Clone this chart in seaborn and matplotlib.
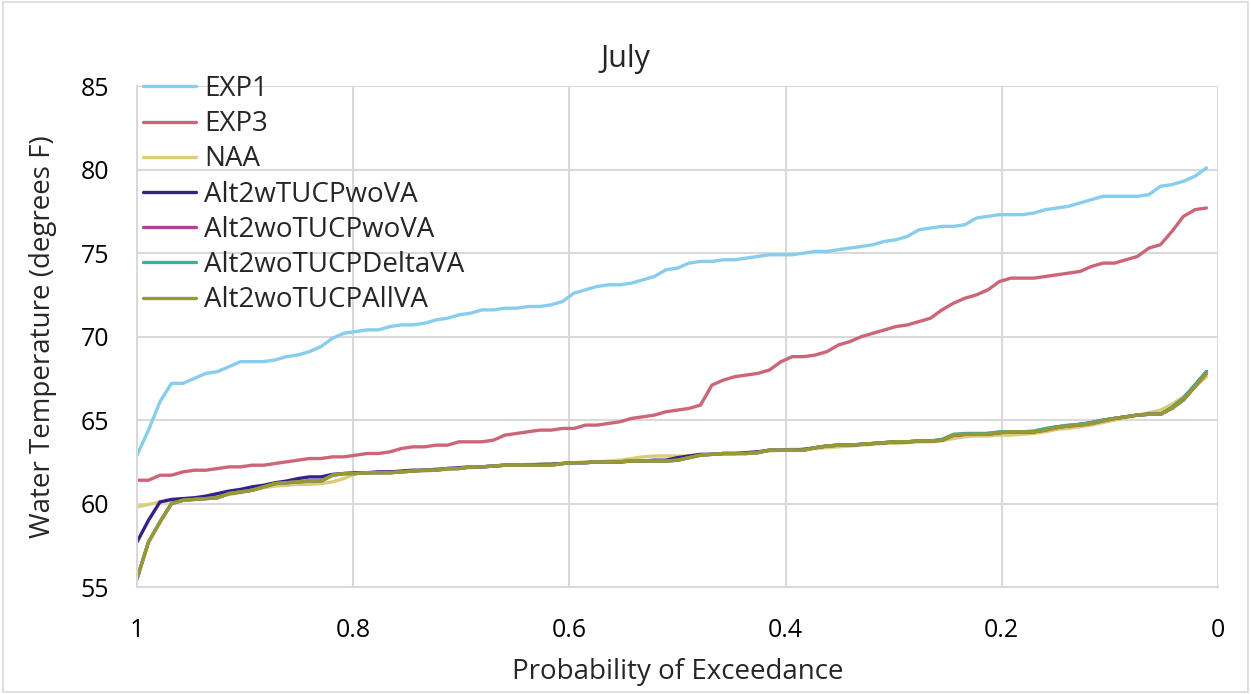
import numpy as np
import pandas as pd
import seaborn as sns
import matplotlib.pyplot as plt
from matplotlib.patches import Rectangle

# probability of exceedance (94 ranked years, 1 -> 1/94)
n_years = 94
prob = 1 - np.arange(n_years) / n_years

exp1 = [62.9, 64.4, 66.1, 67.2, 67.2, 67.5, 67.8, 67.9, 68.2, 68.5,
        68.5, 68.5, 68.6, 68.8, 68.9, 69.1, 69.4, 69.9, 70.2, 70.3,
        70.4, 70.4, 70.6, 70.7, 70.7, 70.8, 71.0, 71.1, 71.3, 71.4,
        71.6, 71.6, 71.7, 71.7, 71.8, 71.8, 71.9, 72.1, 72.6, 72.8,
        73.0, 73.1, 73.1, 73.2, 73.4, 73.6, 74.0, 74.1, 74.4, 74.5,
        74.5, 74.6, 74.6, 74.7, 74.8, 74.9, 74.9, 74.9, 75.0, 75.1,
        75.1, 75.2, 75.3, 75.4, 75.5, 75.7, 75.8, 76.0, 76.4, 76.5,
        76.6, 76.6, 76.7, 77.1, 77.2, 77.3, 77.3, 77.3, 77.4, 77.6,
        77.7, 77.8, 78.0, 78.2, 78.4, 78.4, 78.4, 78.4, 78.5, 79.0,
        79.1, 79.3, 79.6, 80.1]

exp3 = [61.4, 61.4, 61.7, 61.7, 61.9, 62.0, 62.0, 62.1, 62.2, 62.2,
        62.3, 62.3, 62.4, 62.5, 62.6, 62.7, 62.7, 62.8, 62.8, 62.9,
        63.0, 63.0, 63.1, 63.3, 63.4, 63.4, 63.5, 63.5, 63.7, 63.7,
        63.7, 63.8, 64.1, 64.2, 64.3, 64.4, 64.4, 64.5, 64.5, 64.7,
        64.7, 64.8, 64.9, 65.1, 65.2, 65.3, 65.5, 65.6, 65.7, 65.9,
        67.1, 67.4, 67.6, 67.7, 67.8, 68.0, 68.5, 68.8, 68.8, 68.9,
        69.1, 69.5, 69.7, 70.0, 70.2, 70.4, 70.6, 70.7, 70.9, 71.1,
        71.6, 72.0, 72.3, 72.5, 72.8, 73.3, 73.5, 73.5, 73.5, 73.6,
        73.7, 73.8, 73.9, 74.2, 74.4, 74.4, 74.6, 74.8, 75.3, 75.5,
        76.3, 77.2, 77.6, 77.7]

naa = [59.8, 59.95, 60.1, 60.2, 60.25, 60.3, 60.35, 60.4, 60.55, 60.65,
       60.8, 60.95, 61.05, 61.1, 61.15, 61.15, 61.2, 61.3, 61.5, 61.8,
       61.85, 61.85, 61.85, 61.9, 61.95, 61.95, 62.0, 62.05, 62.1, 62.15,
       62.2, 62.25, 62.3, 62.3, 62.35, 62.35, 62.4, 62.4, 62.45, 62.5,
       62.5, 62.55, 62.6, 62.7, 62.8, 62.85, 62.85, 62.85, 62.85, 62.9,
       62.95, 63.0, 63.0, 63.05, 63.1, 63.15, 63.2, 63.25, 63.25, 63.3,
       63.35, 63.4, 63.45, 63.5, 63.55, 63.6, 63.6, 63.65, 63.7, 63.7,
       63.75, 63.9, 64.0, 64.05, 64.05, 64.1, 64.1, 64.15, 64.2, 64.3,
       64.45, 64.5, 64.6, 64.7, 64.85, 65.0, 65.15, 65.3, 65.45, 65.6,
       65.95, 66.4, 67.0, 67.6]

alt2w_wova = [57.7, 59.0, 60.1, 60.25, 60.3, 60.35, 60.45, 60.6, 60.75, 60.85,
              61.0, 61.1, 61.25, 61.35, 61.5, 61.6, 61.6, 61.75, 61.8, 61.85,
              61.85, 61.9, 61.9, 61.95, 62.0, 62.0, 62.05, 62.1, 62.15, 62.2,
              62.2, 62.25, 62.3, 62.3, 62.3, 62.35, 62.35, 62.4, 62.45, 62.45,
              62.5, 62.5, 62.5, 62.55, 62.55, 62.6, 62.6, 62.75, 62.85, 62.95,
              62.95, 63.0, 63.0, 63.05, 63.1, 63.2, 63.2, 63.2, 63.25, 63.35,
              63.45, 63.5, 63.5, 63.55, 63.6, 63.65, 63.7, 63.7, 63.75, 63.75,
              63.8, 64.1, 64.15, 64.15, 64.2, 64.25, 64.3, 64.3, 64.3, 64.45,
              64.6, 64.65, 64.75, 64.85, 65.0, 65.1, 65.2, 65.3, 65.35, 65.35,
              65.75, 66.3, 67.1, 67.9]

alt2wo_wova = [55.5, 57.7, 58.9, 60.0, 60.2, 60.25, 60.3, 60.35, 60.6, 60.7,
               60.8, 61.0, 61.2, 61.25, 61.3, 61.35, 61.35, 61.7, 61.8, 61.8,
               61.85, 61.85, 61.85, 61.9, 61.95, 62.0, 62.0, 62.1, 62.1, 62.2,
               62.2, 62.25, 62.3, 62.3, 62.3, 62.3, 62.3, 62.4, 62.45, 62.45,
               62.5, 62.5, 62.5, 62.55, 62.55, 62.55, 62.55, 62.6, 62.75, 62.9,
               62.95, 63.0, 63.0, 63.0, 63.05, 63.2, 63.2, 63.2, 63.2, 63.35,
               63.45, 63.5, 63.5, 63.55, 63.6, 63.65, 63.7, 63.7, 63.75, 63.75,
               63.8, 64.1, 64.15, 64.15, 64.15, 64.25, 64.3, 64.3, 64.3, 64.4,
               64.55, 64.65, 64.7, 64.8, 64.95, 65.1, 65.2, 65.3, 65.35, 65.35,
               65.7, 66.2, 67.0, 67.8]

alt2wo_deltava = [55.5, 57.7, 58.9, 60.0, 60.2, 60.25, 60.3, 60.35, 60.6, 60.7,
                  60.8, 61.0, 61.2, 61.25, 61.3, 61.35, 61.35, 61.7, 61.8, 61.8,
                  61.85, 61.85, 61.85, 61.9, 61.95, 62.0, 62.0, 62.1, 62.1, 62.2,
                  62.2, 62.25, 62.3, 62.3, 62.3, 62.3, 62.3, 62.4, 62.45, 62.45,
                  62.5, 62.5, 62.5, 62.55, 62.55, 62.55, 62.55, 62.6, 62.75, 62.9,
                  62.95, 63.0, 63.0, 63.0, 63.05, 63.2, 63.2, 63.2, 63.2, 63.35,
                  63.45, 63.5, 63.5, 63.55, 63.6, 63.65, 63.7, 63.7, 63.75, 63.75,
                  63.85, 64.15, 64.2, 64.2, 64.2, 64.3, 64.3, 64.3, 64.35, 64.5,
                  64.6, 64.7, 64.75, 64.85, 65.0, 65.1, 65.2, 65.3, 65.35, 65.35,
                  65.75, 66.3, 67.1, 67.9]

alt2wo_allva = [55.5, 57.7, 58.9, 60.0, 60.2, 60.25, 60.3, 60.35, 60.6, 60.7,
                60.8, 61.0, 61.2, 61.25, 61.3, 61.35, 61.35, 61.7, 61.8, 61.8,
                61.85, 61.85, 61.85, 61.9, 61.95, 62.0, 62.0, 62.1, 62.1, 62.2,
                62.2, 62.25, 62.3, 62.3, 62.3, 62.3, 62.3, 62.4, 62.45, 62.45,
                62.5, 62.5, 62.5, 62.55, 62.55, 62.55, 62.55, 62.6, 62.75, 62.9,
                62.95, 63.0, 63.0, 63.0, 63.05, 63.2, 63.2, 63.2, 63.2, 63.35,
                63.45, 63.5, 63.5, 63.55, 63.6, 63.65, 63.7, 63.7, 63.75, 63.75,
                63.8, 64.1, 64.15, 64.15, 64.15, 64.25, 64.3, 64.3, 64.3, 64.4,
                64.55, 64.65, 64.7, 64.8, 64.95, 65.1, 65.2, 65.3, 65.35, 65.35,
                65.7, 66.2, 67.0, 67.8]

series_names = ["EXP1", "EXP3", "NAA", "Alt2wTUCPwoVA", "Alt2woTUCPwoVA",
                "Alt2woTUCPDeltaVA", "Alt2woTUCPAllVA"]
series_values = [exp1, exp3, naa, alt2w_wova, alt2wo_wova, alt2wo_deltava, alt2wo_allva]
colors = ["#88CCEE", "#CC6677", "#DDCC77", "#332288", "#AA4499", "#44AA99", "#999933"]

frames = []
for name, vals in zip(series_names, series_values):
    frames.append(pd.DataFrame({"prob": prob, "temp": vals, "series": name}))
df = pd.concat(frames, ignore_index=True)

sns.set_theme(style="white")
plt.rcParams["font.family"] = ["Open Sans", "DejaVu Sans"]

fig = plt.figure(figsize=(12.51, 6.94), dpi=100)
ax = fig.add_axes([0.1095, 0.154, 0.8641, 0.722])

sns.lineplot(data=df, x="prob", y="temp", hue="series", hue_order=series_names,
             palette=dict(zip(series_names, colors)), estimator=None,
             linewidth=2.4, ax=ax)

ax.set_xlim(1, 0)
ax.set_ylim(55, 85)
ax.set_xticks([1, 0.8, 0.6, 0.4, 0.2, 0])
ax.set_xticklabels(["1", "0.8", "0.6", "0.4", "0.2", "0"])
ax.set_yticks(range(55, 86, 5))
ax.grid(True, color="#D9D9D9", linewidth=1.5)
ax.set_axisbelow(True)
for side in ["top", "right"]:
    ax.spines[side].set_visible(False)
for side in ["left", "bottom"]:
    ax.spines[side].set_color("#D9D9D9")
    ax.spines[side].set_linewidth(1.5)
ax.tick_params(axis="both", labelsize=18, labelcolor="black", length=0)
ax.tick_params(axis="y", pad=20)
ax.tick_params(axis="x", pad=22)

# Excel centres the title on the whole chart, not on the plot area
ax.set_title("July", fontsize=22, pad=14, x=0.4514)
ax.set_xlabel("Probability of Exceedance", fontsize=20, labelpad=11)
ax.set_ylabel("Water Temperature (degrees F)", fontsize=20, labelpad=17)

ax.legend(loc="upper left", bbox_to_anchor=(0.0055, 1.022), frameon=False,
          fontsize=20, handlelength=1.9, handletextpad=0.3, labelspacing=0.26,
          borderaxespad=0, borderpad=0)

fig.patches.append(Rectangle((0.002, 0.003), 0.996, 0.994, transform=fig.transFigure,
                             fill=False, edgecolor="#D9D9D9", linewidth=1.2))

fig.savefig("out.png", dpi=100)
